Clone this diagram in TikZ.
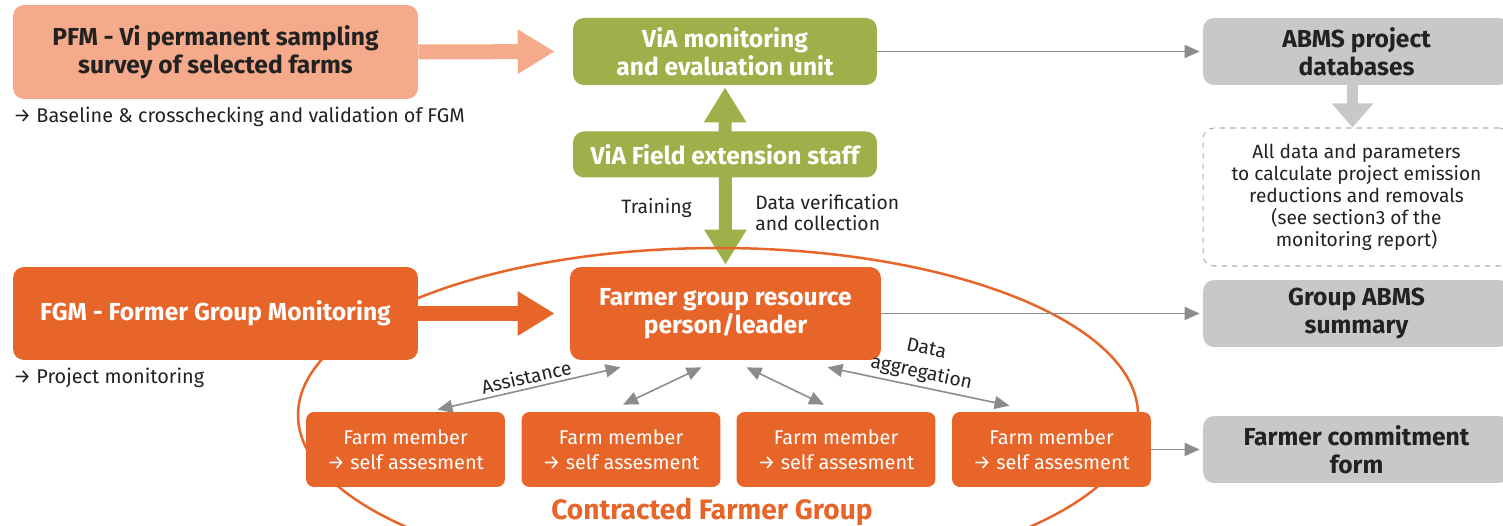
\documentclass[tikz,border=0pt]{standalone}
\usepackage{fontspec}
\setmainfont{Fira Sans}
\usepackage{tikz}
\usetikzlibrary{arrows.meta,positioning,calc,backgrounds}
\definecolor{pfmsalmon}{HTML}{F4AA8B}
\definecolor{viagreen}{HTML}{9DB04A}
\definecolor{fgmorange}{HTML}{E8652A}
\definecolor{abmsgrey}{HTML}{C8C8C8}
\definecolor{linkgrey}{HTML}{8C8C8C}
\definecolor{darktext}{HTML}{222222}

\begin{document}
\begin{tikzpicture}[x=0.02cm, y=-0.02cm,
                big/.style={rounded corners=0.22cm, align=center, inner sep=0pt, font=\bfseries\fontsize{14}{16}\selectfont},
                pfmbox/.style={big, fill=pfmsalmon, text=darktext, minimum width=8.1cm, minimum height=1.88cm},
                fgmbox/.style={big, fill=fgmorange, text=white, minimum height=1.86cm},
                viabox/.style={big, fill=viagreen, text=white, minimum width=6.08cm},
                abmsbox/.style={big, fill=abmsgrey, text=darktext, minimum width=6.14cm, minimum height=1.34cm},
                farmbox/.style={rounded corners=0.16cm, fill=fgmorange, text=white, align=center, minimum width=3.98cm, minimum height=1.5cm, inner sep=0pt, font=\fontsize{11.3}{14.5}\selectfont},
                note/.style={text=darktext, inner sep=0pt, font=\fontsize{11}{11.5}\selectfont},
                fat/.style={line width=0.3cm, -{Triangle[length=0.74cm, width=0.84cm]}},
                link/.style={draw=linkgrey, line width=0.9pt, -{Triangle[length=0.3cm, width=0.26cm]}},
                twolink/.style={draw=linkgrey, line width=0.9pt, {Triangle[length=0.3cm, width=0.26cm]}-{Triangle[length=0.3cm, width=0.26cm]}}
            ]
            \clip (0,0) rectangle (1503,526);
            \node[pfmbox] (pfm) at (215.5,52) {PFM - Vi permanent sampling\\survey of selected farms};
            \node[note, anchor=west, font=\fontsize{11.3}{12}\selectfont] (pfmnote) at (13,117) {→ Baseline \& crosschecking and validation of FGM};
            \node[viabox, minimum height=1.34cm] (mande) at (725,51.5) {ViA monitoring\\and evaluation unit};
            \node[viabox, minimum height=0.92cm] (field) at (725,154.5) {ViA Field extension staff};
            \node[abmsbox] (abms) at (1356.5,51.5) {ABMS project\\databases};
            \node[draw=linkgrey!70, dashed, line width=0.6pt, rounded corners=0.22cm, align=center, minimum width=6.14cm, minimum height=2.76cm, inner sep=0pt, text=darktext, font=\fontsize{10.9}{12.5}\selectfont] (params) at (1356.5,197) {All data and parameters\\to calculate project emission\\reductions and removals\\(see section3 of the\\monitoring report)};
            \node[fgmbox, minimum width=8.1cm] (fgm) at (215.5,313.5) {FGM - Former Group Monitoring};
            \node[note, anchor=west, font=\fontsize{11.3}{12}\selectfont] (fgmnote) at (13,378) {→ Project monitoring};
            \node[fgmbox, minimum width=6.22cm] (leader) at (725.5,313.5) {Farmer group resource\\person/leader};
            \node[abmsbox] (gsum) at (1356.5,313.5) {Group ABMS\\summary};
            \node[note, anchor=east] (train) at (692,208) {Training};
            \node[note, anchor=west, align=left] (verif) at (755,212.5) {Data verification\\and collection};
            \node[farmbox] (farm1) at (405.5,449.5) {Farm member\\→ self assesment};
            \node[farmbox] (farm2) at (621,449.5) {Farm member\\→ self assesment};
            \node[farmbox] (farm3) at (836,449.5) {Farm member\\→ self assesment};
            \node[farmbox] (farm4) at (1051.5,449.5) {Farm member\\→ self assesment};
            \node[abmsbox] (commit) at (1356.5,449.5) {Farmer commitment\\form};
            \node[text=fgmorange, font=\bfseries\fontsize{16}{18}\selectfont, inner sep=0pt] (group) at (712,512) {Contracted Farmer Group};
            \begin{pgfonlayer}{background}
                \draw[viagreen, line width=0.26cm, {Triangle[length=0.7cm, width=0.8cm]}-{Triangle[length=0.7cm, width=0.8cm]}, shorten <=0.04cm, shorten >=0.04cm] (mande.south) -- (leader.north);
                \draw[fgmorange, line width=0.05cm] (718,415) ellipse [x radius=420, y radius=167];
            \end{pgfonlayer}
            \draw[fat, pfmsalmon, shorten >=0.36cm] (pfm.east) -- (mande.west);
            \draw[fat, fgmorange, shorten >=0.3cm] (fgm.east) -- (leader.west);
            \draw[abmsgrey, line width=0.22cm, -{Triangle[length=0.48cm, width=0.8cm]}] ([xshift=-0.08cm]abms.south) -- ([xshift=-0.08cm]params.north);
            \draw[link, shorten >=0.06cm] (mande) -- (abms);
            \draw[link, shorten >=0.06cm] (leader) -- (gsum);
            \draw[link, shorten >=0.06cm] (farm4) -- (commit);
            \draw[twolink] ($(farm1.north)+(32,-2)$) -- node[note, sloped, above=2pt] (assist) {Assistance} ($(leader.south)+(-105,7)$);
            \draw[twolink] ($(farm2.north)+(2,-7)$) -- ($(leader.south)+(-24,7)$);
            \draw[twolink] ($(farm3.north)+(-12,-7)$) -- ($(leader.south)+(21,7)$);
            \draw[twolink] ($(leader.south)+(102,7)$) -- node[note, sloped, above=2pt, align=center, font=\fontsize{11}{14}\selectfont] (aggr) {Data\\aggregation} ($(farm4.north)+(-42,-6)$);
        \end{tikzpicture}
\end{document}
